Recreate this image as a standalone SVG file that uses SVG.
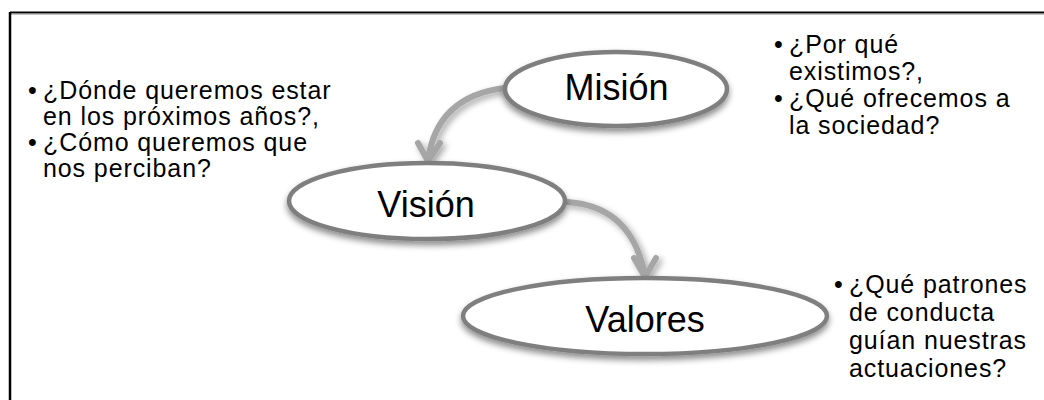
<svg xmlns="http://www.w3.org/2000/svg" width="1044" height="400" viewBox="0 0 1044 400">
<defs>
<style>
.node{fill:#ffffff;stroke:#7f7f7f;stroke-width:4.5;filter:url(#sh)}
.lbl{font-family:"Liberation Sans",Arial,sans-serif;font-size:36px;fill:#000;text-anchor:middle}
.txt{font-family:"Liberation Sans",Arial,sans-serif;font-size:25px;letter-spacing:0.9px;fill:#000}
.arr{fill:none;stroke:#a6a6a6;stroke-width:6;stroke-linecap:round;stroke-linejoin:round;filter:url(#sh2)}
</style>
<filter id="sh" x="-10%" y="-20%" width="120%" height="150%">
<feDropShadow dx="0" dy="4" stdDeviation="3" flood-color="#000" flood-opacity="0.45"/>
</filter>
<filter id="sh2" x="-30%" y="-30%" width="160%" height="160%">
<feDropShadow dx="3" dy="3" stdDeviation="3" flood-color="#000" flood-opacity="0.35"/>
</filter>
</defs>
<rect width="1044" height="400" fill="#ffffff"/>
<g id="frame">
<line x1="10" y1="12.5" x2="1044" y2="12.5" stroke="#000" stroke-width="2"/>
<line x1="10" y1="14" x2="1044" y2="14" stroke="#888" stroke-width="1"/>
<line x1="10" y1="12" x2="10" y2="400" stroke="#000" stroke-width="2.5"/>
</g>
<g id="connectors">
<g id="c1">
<path class="arr" d="M505,88 Q437,96 428,160 M418,143 L428,161 L440,143"/>
</g>
<g id="c2">
<path class="arr" d="M567,202 Q632,206 645,276 M634,258 L645,277 L656,258"/>
</g>
</g>
<g id="mision">
<ellipse class="node" cx="616" cy="89" rx="111" ry="37"/>
<text class="lbl" x="616.5" y="100">Misión</text>
</g>
<g id="vision">
<ellipse class="node" cx="427" cy="201" rx="138" ry="38"/>
<text class="lbl" x="426" y="217">Visión</text>
</g>
<g id="valores">
<ellipse class="node" cx="645" cy="316" rx="182" ry="38"/>
<text class="lbl" x="645" y="332">Valores</text>
</g>
<g id="text-vision">
<text class="txt" x="28" y="99">•</text>
<text class="txt" x="43" y="99">¿Dónde queremos estar</text>
<text class="txt" x="43" y="125">en los próximos años?,</text>
<text class="txt" x="28" y="151">•</text>
<text class="txt" x="43" y="151">¿Cómo queremos que</text>
<text class="txt" x="43" y="177">nos perciban?</text>
</g>
<g id="text-mision">
<text class="txt" x="774" y="53">•</text>
<text class="txt" x="789" y="53">¿Por qué</text>
<text class="txt" x="789" y="80">existimos?,</text>
<text class="txt" x="774" y="107">•</text>
<text class="txt" x="789" y="107">¿Qué ofrecemos a</text>
<text class="txt" x="789" y="134">la sociedad?</text>
</g>
<g id="text-valores">
<text class="txt" x="834" y="293">•</text>
<text class="txt" x="849" y="293">¿Qué patrones</text>
<text class="txt" x="849" y="321">de conducta</text>
<text class="txt" x="849" y="349">guían nuestras</text>
<text class="txt" x="849" y="377">actuaciones?</text>
</g>
</svg>
